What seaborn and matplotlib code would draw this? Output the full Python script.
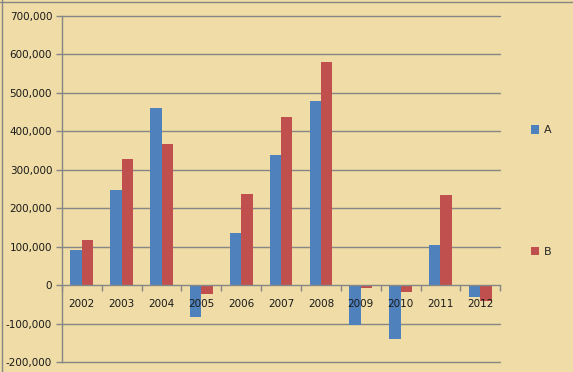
import pandas as pd
import matplotlib
matplotlib.use("Agg")
import matplotlib.pyplot as plt
from matplotlib.ticker import FuncFormatter, FixedLocator
import seaborn as sns

# data
years = ["2002", "2003", "2004", "2005", "2006", "2007",
         "2008", "2009", "2010", "2011", "2012"]
series_a = [91000, 247000, 461000, -82000, 135000, 338000,
            479000, -103000, -140000, 104000, -30000]
series_b = [117000, 328000, 367000, -22000, 237000, 437000,
            580000, -7000, -17000, 234000, -40000]
y_ticks = list(range(-200000, 700001, 100000))

df = pd.DataFrame({
    "year": years * 2,
    "value": series_a + series_b,
    "series": ["A"] * len(years) + ["B"] * len(years),
})

bg = "#EFDCA6"
grey = "#868686"

sns.set_style("white")
plt.rcParams["font.family"] = ["DejaVu Sans"]

fig = plt.figure(figsize=(5.73, 3.72), dpi=100, facecolor=bg)
ax = fig.add_axes([0.108, 0.026, 0.765, 0.931])
ax.set_facecolor("none")

sns.barplot(data=df, x="year", y="value", hue="series",
            palette={"A": "#4F81BD", "B": "#C0504D"},
            width=0.57, saturation=1, linewidth=0, ax=ax, zorder=1)

# horizontal gridlines behind bars
for t in y_ticks:
    if t != 0:
        ax.axhline(t, color=grey, lw=1, zorder=0.5, clip_on=False)

# axis (and year labels) drawn over the bars
ax.set_axisbelow(False)

ax.set_ylim(-200000, 700000)
ax.set_xlim(-0.5, len(years) - 0.5)
ax.set_yticks(y_ticks)
ax.yaxis.set_major_formatter(FuncFormatter(lambda v, p: f"{int(v):,}"))
ax.tick_params(axis="y", length=4, width=1, color=grey, direction="out",
               labelsize=7.5, labelcolor="#1a1a1a", pad=3, left=True)

# category axis sits on the zero line
for s in ["top", "right"]:
    ax.spines[s].set_visible(False)
ax.spines["left"].set_color(grey)
ax.spines["bottom"].set_color(grey)
ax.spines["bottom"].set_position(("data", 0))
ax.spines["left"].set_linewidth(1)
ax.spines["bottom"].set_linewidth(1)
ax.xaxis.set_minor_locator(FixedLocator([i - 0.5 for i in range(len(years) + 1)]))
ax.tick_params(axis="x", which="major", length=0, labelsize=7.5,
               labelcolor="#1a1a1a", pad=10)
ax.tick_params(axis="x", which="minor", length=4, width=1, color=grey,
               direction="out", bottom=True)
ax.set_xlabel("")
ax.set_ylabel("")

leg = ax.legend(loc="upper left", bbox_to_anchor=(1.059, 0.697), frameon=False,
                fontsize=8, handlelength=0.8, handleheight=0.8,
                handletextpad=0.4, labelspacing=10.0, borderaxespad=0)

fig.add_artist(plt.Line2D([0, 1], [0.995, 0.995], color=grey, lw=1))
fig.add_artist(plt.Line2D([0.003, 0.003], [0, 1], color=grey, lw=1))

fig.savefig("out.png", dpi=100, facecolor=bg)
